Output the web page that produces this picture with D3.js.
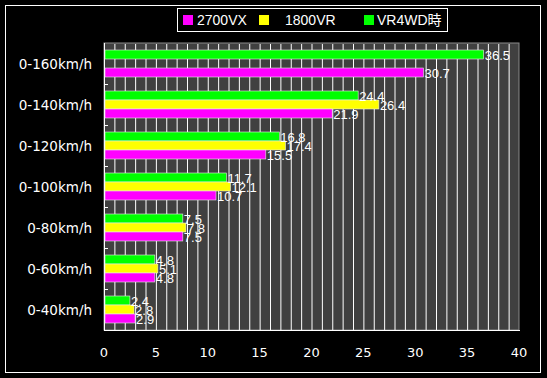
<!DOCTYPE html>
<html>
<head>
<meta charset="utf-8">
<script src="https://cdn.jsdelivr.net/npm/d3@7"></script>
<style>
  body { margin: 0; background: #000; }
  svg { display: block; }
  text { fill: #fff; }
</style>
</head>
<body>
<svg width="547" height="378"></svg>
<script>
// acceleration times (s)
const categories = ['0-160km/h', '0-140km/h', '0-120km/h', '0-100km/h', '0-80km/h', '0-60km/h', '0-40km/h']
const seriesNames = ['VR4WD時', '1800VR', '2700VX']
const vr4wd = [36.5, 24.4, 16.8, 11.7, 7.5, 4.8, 2.4]
const vr1800 = [null, 26.4, 17.4, 12.1, 7.8, 5.1, 2.8]
const vx2700 = [30.7, 21.9, 15.5, 10.7, 7.5, 4.8, 2.9]
const xTicks = [0, 5, 10, 15, 20, 25, 30, 35, 40]
const colors = { 'VR4WD時': '#00ff00', '1800VR': '#ffff00', '2700VX': '#ff00ff' }

window.onload = init

function init() {
  const svg = d3.select('svg')
  const W = 547, H = 378
  const plot = { left: 104, right: 519, top: 43, bottom: 330 }

  // outer frame
  svg.append('rect')
    .attr('x', 5.5).attr('y', 5.5)
    .attr('width', 535).attr('height', 367)
    .attr('fill', 'none').attr('stroke', '#fff')

  const x = d3.scaleLinear().domain([0, 40]).range([plot.left, plot.right])
  const y = d3.scaleBand().domain(categories).range([plot.top, plot.bottom])
  const inner = d3.scaleBand().domain(seriesNames)
    .range([7, y.bandwidth() - 7])

  // plot background
  svg.append('rect')
    .attr('x', plot.left).attr('y', plot.top)
    .attr('width', plot.right - plot.left).attr('height', plot.bottom - plot.top)
    .attr('fill', '#404040').attr('stroke', '#8a8a8a')

  // vertical grid every unit
  svg.append('g')
    .selectAll('line')
    .data(d3.range(1, 40))
    .enter()
    .append('line')
    .attr('x1', d => x(d) + 0.5).attr('x2', d => x(d) + 0.5)
    .attr('y1', plot.top + 1).attr('y2', plot.bottom)
    .attr('stroke', '#fff')

  // axis lines
  svg.append('line')
    .attr('x1', plot.left).attr('x2', plot.right + 1)
    .attr('y1', plot.bottom + 0.5).attr('y2', plot.bottom + 0.5)
    .attr('stroke', '#fff')
  svg.append('line')
    .attr('x1', plot.left + 0.5).attr('x2', plot.left + 0.5)
    .attr('y1', plot.top).attr('y2', plot.bottom)
    .attr('stroke', '#fff')

  // small ticks at category boundaries
  svg.append('g')
    .selectAll('line')
    .data(categories.slice(1))
    .enter()
    .append('line')
    .attr('x1', plot.left).attr('x2', plot.left + 4)
    .attr('y1', d => y(d) + 0.5).attr('y2', d => y(d) + 0.5)
    .attr('stroke', '#fff')

  const rows = []
  categories.forEach((c, i) => {
    rows.push({ cat: c, name: 'VR4WD時', v: vr4wd[i] })
    rows.push({ cat: c, name: '1800VR', v: vr1800[i] })
    rows.push({ cat: c, name: '2700VX', v: vx2700[i] })
  })
  const data = rows.filter(d => d.v != null)

  svg.append('g')
    .selectAll('rect')
    .data(data)
    .enter()
    .append('rect')
    .attr('x', x(0) + 1)
    .attr('y', d => y(d.cat) + inner(d.name))
    .attr('width', d => x(d.v) - x(0))
    .attr('height', inner.bandwidth())
    .attr('fill', d => colors[d.name])
    .attr('stroke', '#e8e8e8')
    .attr('stroke-width', 0.6)

  svg.append('g')
    .selectAll('text')
    .data(data)
    .enter()
    .append('text')
    .attr('x', d => x(d.v) + 2)
    .attr('y', d => y(d.cat) + inner(d.name) + inner.bandwidth() / 2 + 5)
    .attr('font-family', 'Liberation Sans, Arial, sans-serif')
    .attr('font-size', 13)
    .text(d => d.v.toFixed(1))

  // category labels
  svg.append('g')
    .selectAll('text')
    .data(categories)
    .enter()
    .append('text')
    .attr('x', 92)
    .attr('y', d => y(d) + y.bandwidth() / 2 + 5)
    .attr('text-anchor', 'end')
    .attr('font-family', 'DejaVu Sans, sans-serif')
    .attr('font-size', 13.5)
    .text(d => d)

  // x tick labels
  svg.append('g')
    .selectAll('text')
    .data(xTicks)
    .enter()
    .append('text')
    .attr('x', d => x(d))
    .attr('y', 357)
    .attr('text-anchor', 'middle')
    .attr('font-family', 'DejaVu Sans, sans-serif')
    .attr('font-size', 13)
    .text(d => d)

  // legend
  const legend = svg.append('g')
  legend.append('rect')
    .attr('x', 177.5).attr('y', 8.5)
    .attr('width', 270).attr('height', 23)
    .attr('fill', '#000').attr('stroke', '#fff')
  const items = [
    { name: '2700VX', sx: 183, tx: 197 },
    { name: '1800VR', sx: 259, tx: 285 },
    { name: 'VR4WD時', sx: 364, tx: 377 }
  ]
  const li = legend.selectAll('g')
    .data(items)
    .enter()
    .append('g')
  li.append('rect')
    .attr('x', d => d.sx).attr('y', 15)
    .attr('width', 10).attr('height', 10)
    .attr('fill', d => colors[d.name])
  li.append('text')
    .attr('x', d => d.tx).attr('y', 25)
    .attr('font-family', 'Liberation Sans, Noto Sans CJK JP, sans-serif')
    .attr('font-size', 14)
    .text(d => d.name)
}
</script>
</body>
</html>
